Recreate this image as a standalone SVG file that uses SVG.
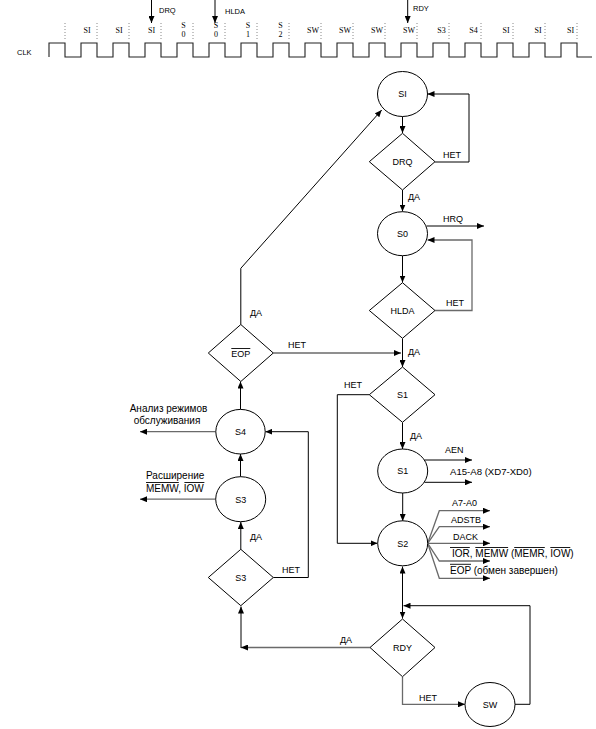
<svg xmlns="http://www.w3.org/2000/svg" width="596" height="729" viewBox="0 0 596 729">
<defs>
<style>
.bg{fill:#fff}
.n{fill:#fff;stroke:#000;stroke-width:1}
.c{fill:none;stroke:#000;stroke-width:1}
.g{fill:none;stroke:#6a6a6a;stroke-width:1.3}
.clk{fill:none;stroke:#222;stroke-width:1.1}
.dot{stroke:#888;stroke-width:1;stroke-dasharray:1,2}
.t{font-family:"Liberation Sans",Arial,sans-serif;font-size:9px;fill:#000}
.tl{font-family:"Liberation Sans",Arial,sans-serif;font-size:10px;fill:#000}
.tc{font-family:"Liberation Sans",Arial,sans-serif;font-size:9px;fill:#000;text-anchor:middle}
.tlc{font-family:"Liberation Sans",Arial,sans-serif;font-size:10px;fill:#000;text-anchor:middle}
.ts{font-family:"Liberation Serif","Times New Roman",serif;font-size:8px;fill:#000;text-anchor:middle}
.tsm{font-family:"Liberation Sans",Arial,sans-serif;font-size:7.5px;fill:#000}
.ov{stroke:#000;stroke-width:0.9}
</style>
<marker id="ah" markerWidth="7" markerHeight="6" refX="7" refY="3" orient="auto-start-reverse" markerUnits="userSpaceOnUse"><path d="M0,0 L7,3 L0,6 z" fill="#000"/></marker>
</defs>
<rect class="bg" x="0" y="0" width="596" height="729"/>

<g id="timing">
<text class="tsm" x="17" y="55">CLK</text>
<path class="clk" d="M49,57 V43 H65 V57 H81 V43 H97 V57 H113 V43 H129 V57 H145 V43 H161 V57 H177 V43 H193 V57 H209 V43 H225 V57 H241 V43 H257 V57 H273 V43 H289 V57 H305 V43 H321 V57 H337 V43 H353 V57 H369 V43 H385 V57 H401 V43 H417 V57 H433 V43 H449 V57 H465 V43 H481 V57 H497 V43 H513 V57 H529 V43 H545 V57 H561 V43 H577 V57 H592"/>
<g>
<line class="dot" x1="65" y1="23" x2="65" y2="39"/>
<line class="dot" x1="97" y1="23" x2="97" y2="39"/>
<line class="dot" x1="129" y1="23" x2="129" y2="39"/>
<line class="dot" x1="161" y1="23" x2="161" y2="39"/>
<line class="dot" x1="193" y1="23" x2="193" y2="39"/>
<line class="dot" x1="225" y1="23" x2="225" y2="39"/>
<line class="dot" x1="257" y1="23" x2="257" y2="39"/>
<line class="dot" x1="289" y1="23" x2="289" y2="39"/>
<line class="dot" x1="321" y1="23" x2="321" y2="39"/>
<line class="dot" x1="353" y1="23" x2="353" y2="39"/>
<line class="dot" x1="385" y1="23" x2="385" y2="39"/>
<line class="dot" x1="417" y1="23" x2="417" y2="39"/>
<line class="dot" x1="449" y1="23" x2="449" y2="39"/>
<line class="dot" x1="481" y1="23" x2="481" y2="39"/>
<line class="dot" x1="513" y1="23" x2="513" y2="39"/>
<line class="dot" x1="545" y1="23" x2="545" y2="39"/>
<line class="dot" x1="577" y1="23" x2="577" y2="39"/>
</g>
<text class="ts" x="87" y="33">SI</text>
<text class="ts" x="119" y="33">SI</text>
<text class="ts" x="151.5" y="33">SI</text>
<text class="ts" x="183.5" y="28">S</text><text class="ts" x="183.5" y="37">0</text>
<text class="ts" x="216" y="28">S</text><text class="ts" x="216" y="37">0</text>
<text class="ts" x="248" y="28">S</text><text class="ts" x="248" y="37">1</text>
<text class="ts" x="280.5" y="28">S</text><text class="ts" x="280.5" y="37">2</text>
<text class="ts" x="313" y="33">SW</text>
<text class="ts" x="345" y="33">SW</text>
<text class="ts" x="377" y="33">SW</text>
<text class="ts" x="409" y="33">SW</text>
<text class="ts" x="441.5" y="33">S3</text>
<text class="ts" x="473.5" y="33">S4</text>
<text class="ts" x="506" y="33">SI</text>
<text class="ts" x="538" y="33">SI</text>
<text class="ts" x="570.5" y="33">SI</text>
<path class="c" d="M151.5,0 V23" marker-end="url(#ah)"/>
<text class="tsm" x="159" y="13">DRQ</text>
<path class="c" d="M215,0 V23" marker-end="url(#ah)"/>
<text class="tsm" x="225" y="14">HLDA</text>
<path class="c" d="M407.7,0 V23" marker-end="url(#ah)"/>
<text class="tsm" x="413" y="11">RDY</text>
</g>

<g id="connectors">
<path class="c" d="M402.5,116.5 V133" marker-end="url(#ah)"/>
<path class="c" d="M435,162 H469 V94 H427.5" marker-end="url(#ah)"/>
<path class="c" d="M402.5,190 V211.5" marker-end="url(#ah)"/>
<path class="c" d="M426.5,226 H484" marker-end="url(#ah)"/>
<path class="c" d="M402.5,255.7 V282.5" marker-end="url(#ah)"/>
<path class="g" d="M435,310.5 H472 V240 H427.5" marker-end="url(#ah)"/>
<path class="c" d="M402.5,338.5 V367" marker-end="url(#ah)"/>
<path class="g" d="M273.3,353 H401" marker-end="url(#ah)"/>
<path class="c" d="M402.5,422.5 V449" marker-end="url(#ah)"/>
<path class="c" d="M369.3,394.7 H337.3 V543.3 H377.5" marker-end="url(#ah)"/>
<path class="c" d="M424.5,460 H472" marker-end="url(#ah)"/>
<path class="c" d="M424.5,482.3 H472" marker-end="url(#ah)"/>
<path class="c" d="M402.7,493 V521" marker-end="url(#ah)"/>
<path class="g" d="M427.7,543.3 L439.3,510.7 H490" marker-end="url(#ah)"/>
<path class="g" d="M427.7,543.3 L439.3,526.7 H490" marker-end="url(#ah)"/>
<path class="g" d="M427.7,543.3 H490" marker-end="url(#ah)"/>
<path class="g" d="M427.7,543.3 L439.3,561 H490" marker-end="url(#ah)"/>
<path class="g" d="M427.7,543.3 L439.3,578.3 H490" marker-end="url(#ah)"/>
<path class="c" d="M402.5,566.5 V618.5" marker-start="url(#ah)" marker-end="url(#ah)"/>
<path class="c" d="M515,704.3 H530 V605.7 H403.5" marker-end="url(#ah)"/>
<path class="g" d="M370,647.5 H241" marker-end="url(#ah)"/>
<path class="c" d="M241,648 V606.5" marker-end="url(#ah)"/>
<path class="g" d="M402.5,677 V704.3 H465" marker-end="url(#ah)"/>
<path class="c" d="M240.8,549.5 V522" marker-end="url(#ah)"/>
<path class="c" d="M273.3,577.5 H308.3 V431.7 H265.3" marker-end="url(#ah)"/>
<path class="c" d="M240.5,476.7 V454" marker-end="url(#ah)"/>
<path class="c" d="M240.5,409.4 V381.5" marker-end="url(#ah)"/>
<path class="c" d="M240.8,324.5 V268.3 L381.7,110" marker-end="url(#ah)"/>
<path class="g" d="M215.7,431.7 H140" marker-end="url(#ah)"/>
<path class="g" d="M215.7,499.2 H140" marker-end="url(#ah)"/>
</g>

<g id="labels">
<text class="t" x="443" y="158">НЕТ</text>
<text class="t" x="408" y="200">ДА</text>
<text class="t" x="443" y="222">HRQ</text>
<text class="t" x="446" y="306">НЕТ</text>
<text class="t" x="408" y="355">ДА</text>
<text class="t" x="288" y="348">НЕТ</text>
<text class="t" x="250" y="316">ДА</text>
<text class="t" x="344" y="388">НЕТ</text>
<text class="t" x="410" y="439">ДА</text>
<text class="t" x="445" y="453">AEN</text>
<text class="t" x="450" y="475" style="font-size:9.6px">A15-A8 (XD7-XD0)</text>
<text class="t" x="452" y="506">A7-A0</text>
<text class="t" x="451" y="523">ADSTB</text>
<text class="t" x="453" y="540">DACK</text>
<text class="tl" x="452" y="557">IOR, MEMW (MEMR, IOW)</text>
<line class="ov" x1="450" y1="547.5" x2="469.8" y2="547.5"/>
<line class="ov" x1="475.3" y1="547.5" x2="508.1" y2="547.5"/>
<line class="ov" x1="514.2" y1="547.5" x2="544.8" y2="547.5"/>
<line class="ov" x1="550.3" y1="547.5" x2="570.3" y2="547.5"/>
<text class="tl" x="450" y="574">EOP (обмен завершен)</text>
<line class="ov" x1="450" y1="564.3" x2="471" y2="564.3"/>
<text class="t" x="340" y="643">ДА</text>
<text class="t" x="419" y="701">НЕТ</text>
<text class="tlc" x="168.5" y="412">Анализ режимов</text>
<text class="tlc" x="167" y="423.5">обслуживания</text>
<text class="tl" x="146" y="479">Расширение</text>
<text class="tl" x="146" y="492">MEMW, IOW</text>
<line class="ov" x1="146" y1="482.5" x2="178.8" y2="482.5"/>
<line class="ov" x1="184.4" y1="482.5" x2="204.4" y2="482.5"/>
<text class="t" x="250" y="540">ДА</text>
<text class="t" x="282" y="573">НЕТ</text>
</g>

<g id="SI"><ellipse class="n" cx="402.5" cy="94" rx="25" ry="22.5"/><text class="tc" x="402.5" y="97">SI</text></g>
<g id="DRQ"><polygon class="n" points="402.5,133.3 435,161.7 402.5,190 369.3,161.7"/><text class="tc" x="402.5" y="165">DRQ</text></g>
<g id="S0"><ellipse class="n" cx="402.5" cy="233.7" rx="25" ry="22"/><text class="tc" x="402.5" y="237">S0</text></g>
<g id="HLDA"><polygon class="n" points="402.5,282.7 435,310.5 402.5,338.3 369.3,310.5"/><text class="tc" x="402.5" y="314">HLDA</text></g>
<g id="S1check"><polygon class="n" points="402.5,367 435,394.7 402.5,422.3 369.3,394.7"/><text class="tc" x="402.5" y="398">S1</text></g>
<g id="S1"><ellipse class="n" cx="402.7" cy="471" rx="25" ry="22"/><text class="tc" x="402.7" y="474">S1</text></g>
<g id="S2"><ellipse class="n" cx="402.7" cy="543.3" rx="25" ry="22.5"/><text class="tc" x="402.7" y="546.5">S2</text></g>
<g id="RDY"><polygon class="n" points="402.5,619 435,647.5 402.5,676.7 370,647.5"/><text class="tc" x="402.5" y="650.5">RDY</text></g>
<g id="SW"><ellipse class="n" cx="490" cy="704.5" rx="25" ry="22"/><text class="tc" x="490" y="707.5">SW</text></g>
<g id="EOP"><polygon class="n" points="240.8,324.5 273.3,353 240.8,381.5 208.3,353"/><text class="tc" x="240.8" y="356.5">EOP</text><line class="ov" x1="231.3" y1="348.5" x2="250.3" y2="348.5"/></g>
<g id="S4"><ellipse class="n" cx="240.5" cy="431.7" rx="24.7" ry="22.3"/><text class="tc" x="240.5" y="435">S4</text></g>
<g id="S3"><ellipse class="n" cx="240.7" cy="499.2" rx="25" ry="22.5"/><text class="tc" x="240.7" y="502.5">S3</text></g>
<g id="S3check"><polygon class="n" points="240.8,549.3 273.3,577.5 240.8,605.7 208.3,577.5"/><text class="tc" x="240.8" y="580.5">S3</text></g>
</svg>
